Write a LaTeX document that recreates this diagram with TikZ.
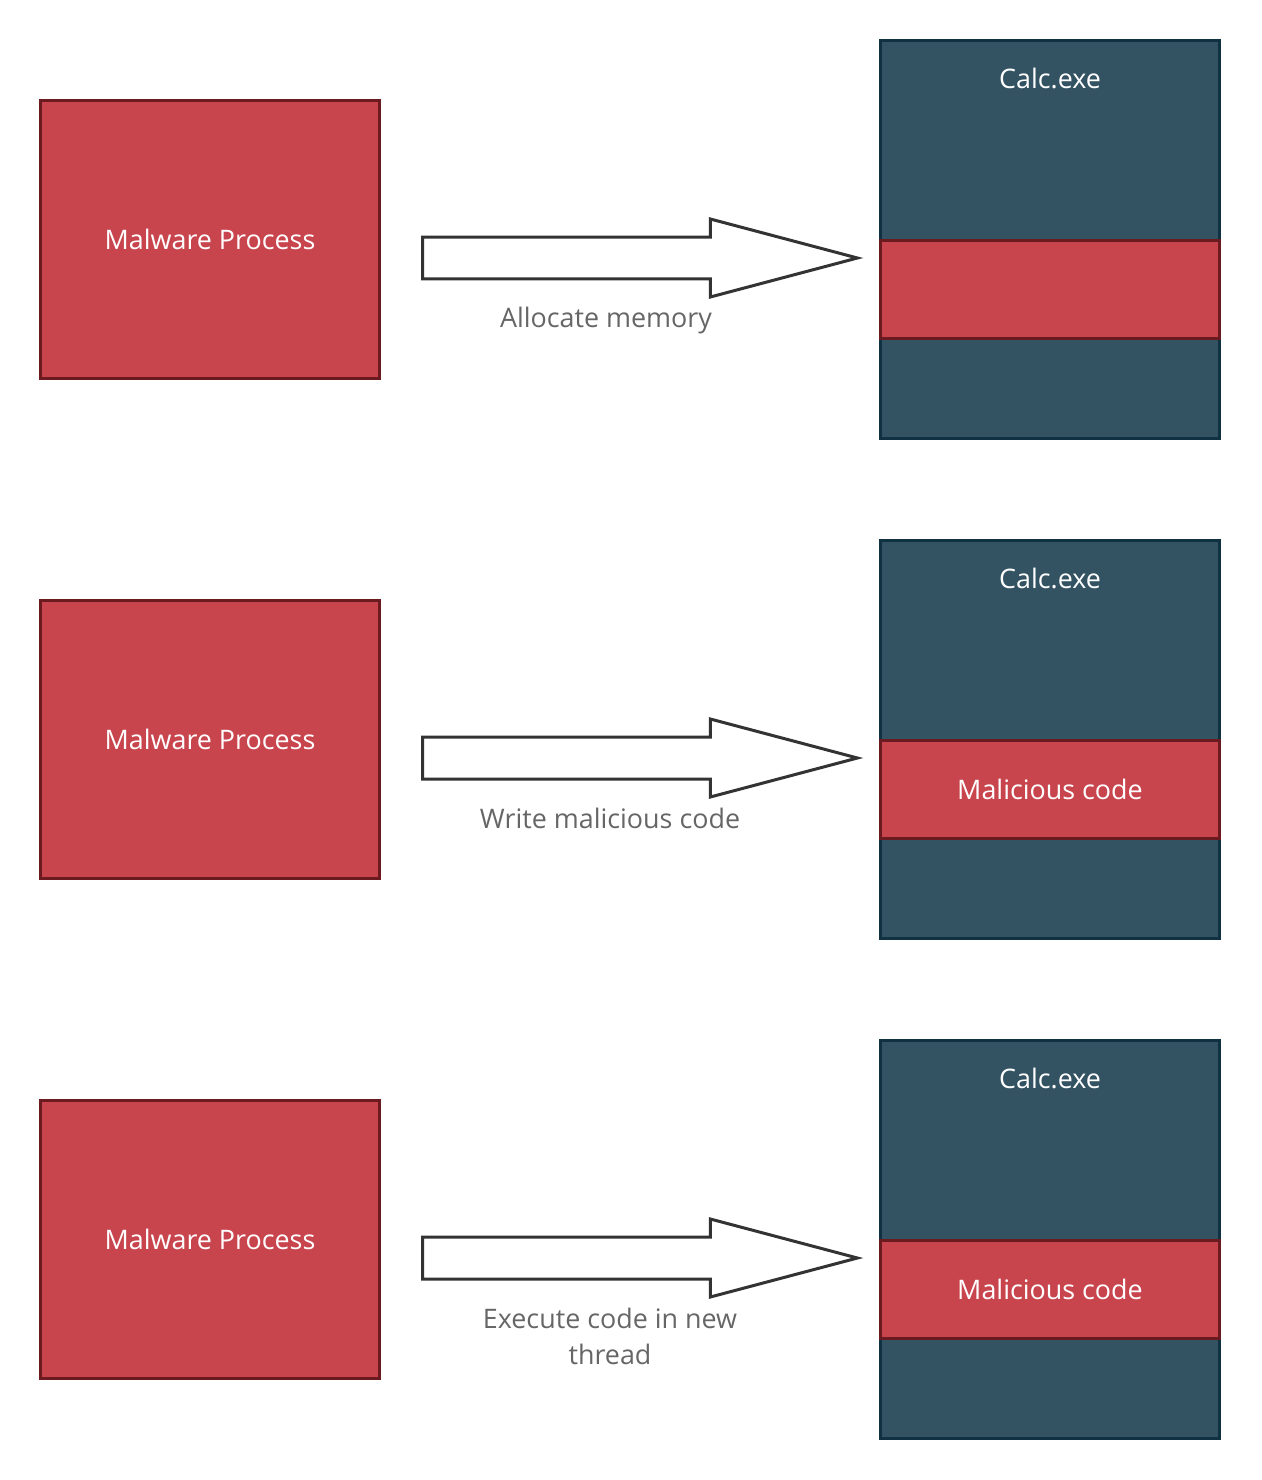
\documentclass[tikz,border=0pt]{standalone}
\usepackage{fontspec}
\setmainfont{Open Sans}
\usetikzlibrary{shapes.arrows}

\definecolor{procred}{HTML}{C9454D}
\definecolor{procedge}{HTML}{6B1A1F}
\definecolor{calcfill}{HTML}{335363}
\definecolor{calcedge}{HTML}{0F3142}
\definecolor{arrowedge}{HTML}{333333}
\definecolor{labelgray}{HTML}{666666}

\tikzset{
  procbox/.style = {shape = rectangle, draw = procedge, fill = procred,
                    line width = 0.06cm, minimum width = 6.78cm,
                    minimum height = 5.56cm, text = white,
                    font = \fontsize{15.3}{18}\selectfont},
  calcbox/.style = {shape = rectangle, draw = calcedge, fill = calcfill,
                    line width = 0.06cm, minimum width = 6.78cm,
                    minimum height = 7.96cm},
  memband/.style = {shape = rectangle, draw = procedge, fill = procred,
                    line width = 0.06cm, minimum width = 6.78cm,
                    minimum height = 1.96cm, text = white,
                    font = \fontsize{15.3}{18}\selectfont},
  calctitle/.style = {text = white, font = \fontsize{15.3}{18}\selectfont},
  stepshape/.style = {shape = single arrow, draw = arrowedge, fill = white,
                      line width = 0.06cm, inner sep = 0cm,
                      inner ysep = 0.39cm, minimum height = 8.7cm,
                      single arrow head extend = 0.36cm,
                      single arrow tip angle = 29.7, anchor = tail},
  steptext/.style = {text = labelgray, align = center,
                     font = \fontsize{15.3}{20.5}\selectfont}
}

\begin{document}
\begin{tikzpicture}[x = 0.02cm, y = -0.02cm]
      \useasboundingbox (0, 0) rectangle (1261, 1480);

      % first step
      \node[procbox] (m1) at (210, 239.5) {Malware Process};
      \node[calcbox] (c1) at (1050, 239.5) {};
      \node[calctitle] (t1) at (1050, 78.5) {Calc.exe};
      \node[memband] (b1) at (1050, 289.5) {};
      \node[stepshape] (a1) at (421, 258) {};
      \node[steptext] (l1) at (606, 321) {Allocate memory};

      % second step
      \node[procbox] (m2) at (210, 739.5) {Malware Process};
      \node[calcbox] (c2) at (1050, 739.5) {};
      \node[calctitle] (t2) at (1050, 578.5) {Calc.exe};
      \node[memband] (b2) at (1050, 789.5) {Malicious code};
      \node[stepshape] (a2) at (421, 758) {};
      \node[steptext] (l2) at (610, 818) {Write malicious code};

      % third step
      \node[procbox] (m3) at (210, 1239.5) {Malware Process};
      \node[calcbox] (c3) at (1050, 1239.5) {};
      \node[calctitle] (t3) at (1050, 1078.5) {Calc.exe};
      \node[memband] (b3) at (1050, 1289.5) {Malicious code};
      \node[stepshape] (a3) at (421, 1258) {};
      \node[steptext] (l3) at (610, 1336) {Execute code in new\\thread};
\end{tikzpicture}
\end{document}
